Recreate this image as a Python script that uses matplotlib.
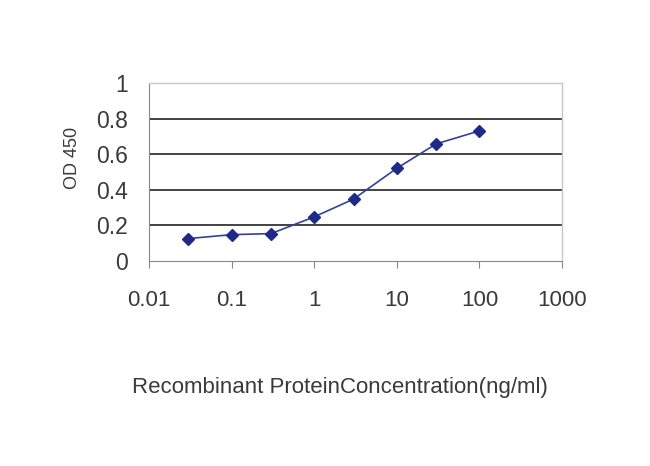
import matplotlib
matplotlib.use("Agg")
import matplotlib.pyplot as plt
from matplotlib.ticker import FixedLocator, NullLocator

plt.rcParams['font.family'] = ['Liberation Sans', 'DejaVu Sans']

concentration = [0.03, 0.1, 0.3, 1, 3, 10, 30, 100]
od450 = [0.126, 0.148, 0.154, 0.248, 0.348, 0.521, 0.658, 0.731]
xticks = [0.01, 0.1, 1, 10, 100, 1000]
xticklabels = ["0.01", "0.1", "1", "10", "100", "1000"]
yticks = [0, 0.2, 0.4, 0.6, 0.8, 1]
yticklabels = ["0", "0.2", "0.4", "0.6", "0.8", "1"]

fig = plt.figure(figsize=(6.5, 4.66), dpi=100)
ax = fig.add_axes([149/650, 1-261/466, (562-149)/650, (261-83)/466])

ax.plot(concentration, od450, color='#3340a0', lw=1.2, marker='D', ms=6,
        mfc='#1e2a8a', mec='#1e2a8a', zorder=3)

ax.set_xscale('log')
ax.set_xlim(0.01, 1000)
ax.set_ylim(0, 1)
ax.xaxis.set_major_locator(FixedLocator(xticks))
ax.xaxis.set_minor_locator(NullLocator())
ax.set_xticklabels(xticklabels)
ax.set_yticks(yticks)
ax.set_yticklabels(yticklabels)

for y in yticks[1:-1]:
    ax.axhline(y, color='#222222', lw=1.2, zorder=1)

for s in ['top', 'right']:
    ax.spines[s].set_color('#c8c8c8')
    ax.spines[s].set_linewidth(1.0)
ax.spines['left'].set_color('#888888')
ax.spines['bottom'].set_color('#888888')

ax.tick_params(axis='x', direction='out', length=5, color='#888888', labelsize=16,
               labelcolor='#3a3a3a', pad=16)
ax.tick_params(axis='y', length=0, labelsize=16.5, labelcolor='#3a3a3a', pad=15)

ax.set_ylabel("OD 450", fontsize=13, color='#3a3a3a')
ax.yaxis.set_label_coords(-0.186, 0.579)
ax.yaxis.label.set_va('center')

ax.set_xlabel("Recombinant ProteinConcentration(ng/ml)", fontsize=16,
              color='#3a3a3a')
ax.xaxis.set_label_coords(0.462, -0.712)
ax.xaxis.label.set_va('center')

fig.savefig("out.png", dpi=100, facecolor='white')
